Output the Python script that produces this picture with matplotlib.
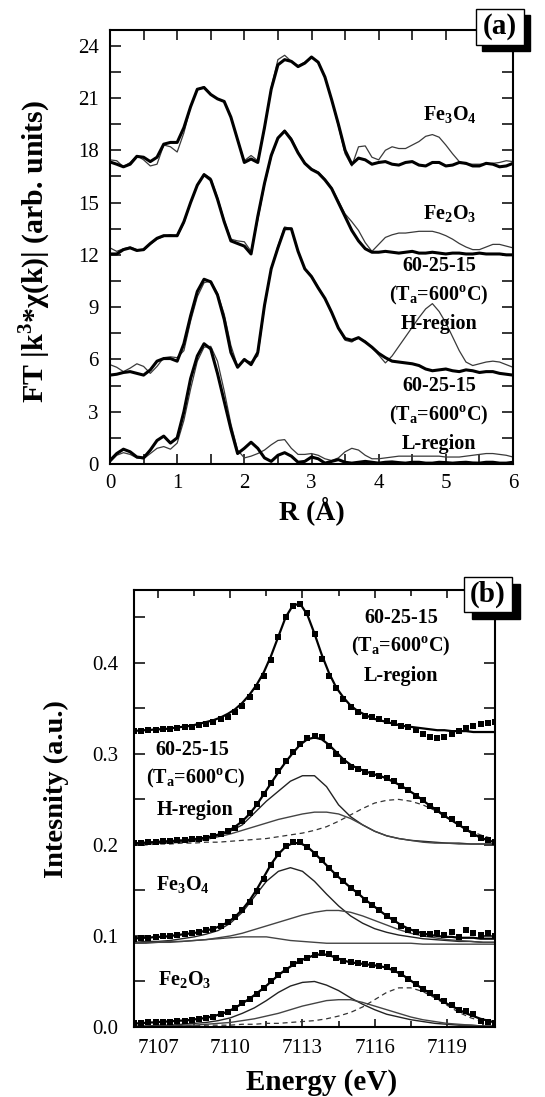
import numpy as np
import matplotlib.pyplot as plt
from matplotlib.patches import Rectangle
from matplotlib.ticker import MultipleLocator

# ---- (a) Fourier transforms, R grid in Angstrom ----
R = np.round(np.arange(61) * 0.1, 1)

FE3O4_EXP = [17.33, 17.2, 17.05, 17.2, 17.65, 17.6, 17.35, 17.6, 18.35, 18.45,
             18.45, 19.3, 20.5, 21.5, 21.6, 21.2, 20.95, 20.8, 19.9, 18.6,
             17.3, 17.5, 17.3, 19.3, 21.5, 22.9, 23.2, 23.1, 22.8, 23.0,
             23.35, 23.05, 22.2, 20.9, 19.5, 18.0, 17.2, 17.55, 17.45, 17.2,
             17.3, 17.35, 17.2, 17.15, 17.3, 17.35, 17.15, 17.1, 17.3, 17.3,
             17.1, 17.15, 17.3, 17.25, 17.1, 17.1, 17.25, 17.2, 17.05, 17.1, 17.25]
FE3O4_FIT = [17.45, 17.4, 17.05, 17.3, 17.7, 17.45, 17.1, 17.2, 18.3, 18.2,
             17.9, 19.0, 20.5, 21.5, 21.65, 21.2, 20.95, 20.8, 19.9, 18.6,
             17.4, 17.7, 17.4, 19.2, 21.6, 23.2, 23.45, 23.1, 22.85, 23.05,
             23.35, 23.05, 22.2, 20.9, 19.4, 17.8, 17.1, 18.2, 18.25, 17.6,
             17.45, 18.0, 18.2, 18.1, 18.1, 18.3, 18.5, 18.8, 18.9, 18.75,
             18.3, 17.8, 17.35, 17.2, 17.2, 17.2, 17.2, 17.25, 17.3, 17.4, 17.35]

FE2O3_EXP = [12.05, 12.05, 12.3, 12.4, 12.25, 12.3, 12.65, 12.95, 13.1, 13.1,
             13.1, 13.9, 15.0, 16.0, 16.6, 16.3, 15.2, 13.9, 12.8, 12.65,
             12.5, 12.05, 14.2, 16.1, 17.7, 18.7, 19.1, 18.6, 17.85, 17.25,
             16.9, 16.7, 16.3, 15.8, 15.0, 14.2, 13.4, 12.8, 12.35, 12.15,
             12.15, 12.2, 12.15, 12.1, 12.15, 12.2, 12.1, 12.1, 12.15, 12.1,
             12.05, 12.1, 12.1, 12.05, 12.05, 12.1, 12.05, 12.05, 12.05, 12.0, 12.0]
FE2O3_FIT = [12.4, 12.2, 12.35, 12.45, 12.3, 12.25, 12.6, 12.9, 13.05, 13.15,
             13.05, 13.8, 15.0, 16.0, 16.65, 16.4, 15.3, 14.0, 12.9, 12.8,
             12.75, 12.2, 14.0, 16.0, 17.6, 18.7, 19.15, 18.7, 17.9, 17.3,
             16.95, 16.75, 16.35, 15.85, 15.1, 14.35, 13.9, 13.4, 12.7, 12.2,
             12.6, 13.0, 13.15, 13.25, 13.25, 13.3, 13.35, 13.35, 13.35, 13.25,
             13.1, 12.9, 12.65, 12.45, 12.3, 12.3, 12.45, 12.6, 12.6, 12.5, 12.4]

H_EXP = [5.1, 5.15, 5.25, 5.3, 5.2, 5.1, 5.4, 5.9, 6.05, 6.05,
         5.9, 6.9, 8.5, 9.9, 10.6, 10.45, 9.7, 8.3, 6.4, 5.55,
         6.0, 5.7, 6.4, 9.1, 11.2, 12.4, 13.5, 13.5, 12.2, 11.2,
         10.75, 10.1, 9.5, 8.7, 7.8, 7.2, 7.1, 7.25, 7.0, 6.7,
         6.35, 6.1, 5.9, 5.85, 5.8, 5.75, 5.65, 5.45, 5.35, 5.4,
         5.45, 5.35, 5.3, 5.4, 5.35, 5.25, 5.3, 5.3, 5.2, 5.15, 5.1]
H_FIT = [5.7, 5.55, 5.3, 5.5, 5.75, 5.6, 5.2, 5.6, 6.1, 6.15,
         6.1, 6.5, 8.2, 9.6, 10.4, 10.5, 9.8, 8.6, 6.8, 5.6,
         5.95, 5.85, 6.2, 9.0, 11.2, 12.5, 13.6, 13.5, 12.2, 11.2,
         10.8, 10.15, 9.5, 8.7, 7.8, 7.1, 7.0, 7.25, 7.05, 6.7,
         6.25, 5.8, 6.2, 6.75, 7.3, 7.85, 8.4, 8.9, 9.2, 8.75,
         8.1, 7.3, 6.5, 5.85, 5.65, 5.75, 5.85, 5.9, 5.85, 5.7, 5.55]

L_EXP = [0.2, 0.6, 0.85, 0.7, 0.4, 0.35, 0.8, 1.35, 1.6, 1.2,
         1.5, 3.0, 4.9, 6.2, 6.9, 6.6, 5.2, 3.6, 2.0, 0.6,
         0.9, 1.25, 0.9, 0.35, 0.15, 0.5, 0.65, 0.45, 0.1, 0.15,
         0.4, 0.3, 0.05, 0.15, 0.25, 0.1, 0.05, 0.1, 0.15, 0.1,
         0.05, 0.1, 0.12, 0.08, 0.05, 0.1, 0.1, 0.05, 0.05, 0.1,
         0.08, 0.05, 0.08, 0.1, 0.06, 0.05, 0.1, 0.1, 0.05, 0.05, 0.1]
L_FIT = [0.1, 0.5, 0.65, 0.55, 0.35, 0.3, 0.6, 0.9, 1.0, 0.85,
         1.2, 2.5, 4.3, 5.9, 6.7, 6.75, 5.9, 4.2, 2.3, 0.8,
         0.35, 0.45, 0.6, 0.8, 1.1, 1.35, 1.4, 0.9, 0.55, 0.55,
         0.6, 0.5, 0.3, 0.2, 0.35, 0.7, 0.9, 0.8, 0.5, 0.3,
         0.3, 0.35, 0.4, 0.45, 0.45, 0.45, 0.45, 0.45, 0.45, 0.45,
         0.4, 0.4, 0.4, 0.45, 0.5, 0.55, 0.6, 0.6, 0.55, 0.5, 0.4]

# ---- (b) XANES pre-edge, energy in eV ----
E_PTS = np.linspace(7106.0, 7121.0, 51)    # 0.3 eV steps: data and total fits
E_CMP = np.linspace(7106.0, 7121.0, 31)    # 0.5 eV steps: fit components

L_DATA = [0.325, 0.325, 0.326, 0.326, 0.327, 0.327, 0.328, 0.329, 0.330, 0.332,
          0.333, 0.335, 0.338, 0.341, 0.346, 0.353, 0.362, 0.373, 0.386, 0.403,
          0.428, 0.450, 0.462, 0.465, 0.455, 0.432, 0.404, 0.385, 0.372, 0.360,
          0.351, 0.346, 0.342, 0.340, 0.338, 0.336, 0.334, 0.331, 0.329, 0.326,
          0.322, 0.318, 0.317, 0.318, 0.322, 0.325, 0.328, 0.331, 0.333, 0.334, 0.335]
L_TOTAL = [0.325, 0.326, 0.326, 0.327, 0.327, 0.328, 0.329, 0.330, 0.331, 0.333,
           0.335, 0.337, 0.340, 0.344, 0.349, 0.356, 0.365, 0.376, 0.390, 0.408,
           0.429, 0.450, 0.463, 0.465, 0.453, 0.432, 0.409, 0.389, 0.373, 0.362,
           0.353, 0.347, 0.343, 0.339, 0.337, 0.335, 0.333, 0.331, 0.330, 0.329,
           0.328, 0.327, 0.326, 0.326, 0.325, 0.325, 0.325, 0.324, 0.324, 0.324, 0.324]

H_DATA = [0.202, 0.202, 0.203, 0.203, 0.204, 0.204, 0.205, 0.205, 0.206, 0.207,
          0.208, 0.210, 0.212, 0.215, 0.219, 0.226, 0.235, 0.245, 0.256, 0.268,
          0.281, 0.292, 0.302, 0.311, 0.317, 0.320, 0.318, 0.309, 0.300, 0.292,
          0.286, 0.283, 0.280, 0.278, 0.276, 0.273, 0.270, 0.265, 0.260, 0.254,
          0.249, 0.243, 0.238, 0.233, 0.228, 0.223, 0.217, 0.212, 0.208, 0.205, 0.203]
H_TOTAL = [0.202, 0.202, 0.203, 0.203, 0.204, 0.204, 0.205, 0.205, 0.206, 0.207,
           0.208, 0.210, 0.212, 0.215, 0.220, 0.226, 0.234, 0.244, 0.256, 0.268,
           0.280, 0.291, 0.301, 0.310, 0.316, 0.318, 0.316, 0.310, 0.302, 0.294,
           0.288, 0.284, 0.281, 0.278, 0.276, 0.273, 0.269, 0.265, 0.260, 0.255,
           0.249, 0.243, 0.238, 0.232, 0.227, 0.222, 0.217, 0.212, 0.208, 0.205, 0.203]
H_PEAK1 = [0.201, 0.202, 0.202, 0.203, 0.204, 0.205, 0.207, 0.210, 0.215, 0.222,
           0.235, 0.248, 0.259, 0.270, 0.276, 0.276, 0.264, 0.244, 0.231, 0.222,
           0.215, 0.210, 0.207, 0.205, 0.204, 0.203, 0.202, 0.202, 0.201, 0.201, 0.201]
H_PEAK2 = [0.201, 0.201, 0.202, 0.202, 0.203, 0.204, 0.206, 0.209, 0.212, 0.216,
           0.220, 0.224, 0.228, 0.231, 0.234, 0.236, 0.236, 0.234, 0.229, 0.222,
           0.215, 0.210, 0.207, 0.205, 0.203, 0.202, 0.202, 0.201, 0.201, 0.201, 0.201]
H_PEAK3 = [0.200, 0.200, 0.201, 0.201, 0.202, 0.202, 0.203, 0.203, 0.204, 0.205,
           0.206, 0.207, 0.209, 0.211, 0.213, 0.216, 0.220, 0.226, 0.233, 0.240,
           0.246, 0.249, 0.250, 0.248, 0.244, 0.238, 0.230, 0.222, 0.215, 0.210, 0.206]

M_DATA = [0.097, 0.098, 0.098, 0.099, 0.100, 0.100, 0.101, 0.102, 0.103, 0.104,
          0.106, 0.108, 0.111, 0.115, 0.121, 0.128, 0.137, 0.149, 0.163, 0.178,
          0.190, 0.199, 0.203, 0.203, 0.198, 0.190, 0.183, 0.175, 0.167, 0.160,
          0.153, 0.147, 0.140, 0.134, 0.128, 0.122, 0.117, 0.111, 0.107, 0.104,
          0.102, 0.102, 0.103, 0.101, 0.104, 0.099, 0.106, 0.103, 0.101, 0.103, 0.100]
M_TOTAL = [0.097, 0.098, 0.098, 0.099, 0.099, 0.100, 0.101, 0.102, 0.103, 0.104,
           0.106, 0.108, 0.111, 0.115, 0.121, 0.129, 0.139, 0.151, 0.165, 0.179,
           0.190, 0.198, 0.202, 0.202, 0.198, 0.191, 0.183, 0.175, 0.167, 0.160,
           0.153, 0.147, 0.140, 0.134, 0.128, 0.122, 0.117, 0.112, 0.108, 0.105,
           0.103, 0.101, 0.100, 0.099, 0.099, 0.098, 0.098, 0.098, 0.097, 0.097, 0.097]
M_PEAK1 = [0.093, 0.094, 0.094, 0.095, 0.097, 0.099, 0.102, 0.106, 0.114, 0.126,
           0.143, 0.160, 0.171, 0.175, 0.171, 0.160, 0.146, 0.133, 0.122, 0.114,
           0.108, 0.104, 0.101, 0.099, 0.097, 0.096, 0.095, 0.094, 0.094, 0.093, 0.093]
M_PEAK2 = [0.092, 0.092, 0.093, 0.093, 0.094, 0.095, 0.096, 0.098, 0.100, 0.103,
           0.107, 0.111, 0.115, 0.119, 0.123, 0.126, 0.128, 0.128, 0.126, 0.122,
           0.117, 0.112, 0.107, 0.103, 0.100, 0.098, 0.096, 0.095, 0.094, 0.093, 0.093]
M_PEAK3 = [0.092, 0.093, 0.093, 0.094, 0.094, 0.095, 0.096, 0.097, 0.098, 0.099,
           0.099, 0.099, 0.097, 0.095, 0.094, 0.093, 0.092, 0.092, 0.092, 0.092,
           0.092, 0.092, 0.092, 0.092, 0.091, 0.091, 0.091, 0.091, 0.091, 0.091, 0.091]

HM_DATA = [0.004, 0.004, 0.005, 0.005, 0.006, 0.006, 0.007, 0.007, 0.008, 0.009,
           0.010, 0.011, 0.014, 0.017, 0.021, 0.026, 0.031, 0.036, 0.043, 0.050,
           0.057, 0.063, 0.069, 0.073, 0.076, 0.079, 0.081, 0.080, 0.076, 0.073,
           0.071, 0.070, 0.069, 0.068, 0.067, 0.066, 0.063, 0.058, 0.053, 0.047,
           0.042, 0.037, 0.033, 0.029, 0.024, 0.019, 0.018, 0.014, 0.007, 0.006, 0.004]
HM_TOTAL = [0.004, 0.004, 0.005, 0.005, 0.006, 0.006, 0.007, 0.007, 0.008, 0.009,
            0.010, 0.012, 0.014, 0.017, 0.021, 0.026, 0.031, 0.037, 0.043, 0.050,
            0.057, 0.063, 0.068, 0.073, 0.076, 0.079, 0.080, 0.079, 0.076, 0.073,
            0.071, 0.070, 0.069, 0.068, 0.067, 0.065, 0.062, 0.058, 0.053, 0.047,
            0.042, 0.037, 0.032, 0.027, 0.023, 0.019, 0.015, 0.012, 0.009, 0.007, 0.005]
HM_PEAK1 = [0.001, 0.001, 0.002, 0.002, 0.003, 0.004, 0.005, 0.007, 0.010, 0.015,
            0.021, 0.029, 0.038, 0.045, 0.049, 0.050, 0.046, 0.040, 0.032, 0.025,
            0.019, 0.014, 0.011, 0.008, 0.006, 0.004, 0.003, 0.002, 0.002, 0.001, 0.001]
HM_PEAK2 = [0.000, 0.001, 0.001, 0.001, 0.002, 0.002, 0.003, 0.004, 0.005, 0.007,
            0.009, 0.012, 0.015, 0.019, 0.023, 0.026, 0.029, 0.030, 0.030, 0.027,
            0.023, 0.019, 0.015, 0.011, 0.008, 0.006, 0.004, 0.003, 0.002, 0.001, 0.001]
HM_PEAK3 = [0.000, 0.000, 0.001, 0.001, 0.001, 0.001, 0.002, 0.002, 0.002, 0.003,
            0.003, 0.004, 0.004, 0.005, 0.006, 0.007, 0.009, 0.012, 0.016, 0.022,
            0.030, 0.038, 0.043, 0.043, 0.039, 0.032, 0.024, 0.016, 0.010, 0.006, 0.004]

W, H = 545, 1097
plt.rcParams['font.family'] = 'Liberation Serif'
plt.rcParams['mathtext.fontset'] = 'custom'
plt.rcParams['mathtext.rm'] = 'Liberation Serif'
plt.rcParams['mathtext.bf'] = 'Liberation Serif:bold'

FE3O4 = r'Fe$_\mathbf{3}$O$_\mathbf{4}$'
FE2O3 = r'Fe$_\mathbf{2}$O$_\mathbf{3}$'
ANNEAL = r'(T$_\mathbf{a}$=600$^\mathbf{o}$C)'


def px_axes(left, top, right, bottom):
    return [left / W, 1 - bottom / H, (right - left) / W, (bottom - top) / H]


def panel_tag(fig, text, x0, y0, w, h, dx, dy):
    shadow = Rectangle(((x0 + dx) / W, 1 - (y0 + h + dy) / H), w / W, h / H,
                       transform=fig.transFigure, fc='black', ec='black', zorder=10)
    box = Rectangle((x0 / W, 1 - (y0 + h) / H), w / W, h / H,
                    transform=fig.transFigure, fc='white', ec='black', lw=1.0, zorder=11)
    fig.add_artist(shadow)
    fig.add_artist(box)
    fig.text((x0 + w / 2) / W, 1 - (y0 + h / 2) / H, text, ha='center', va='center',
             fontsize=21, fontweight='bold', zorder=12)


def style_axes(ax, ylen):
    for s in ax.spines.values():
        s.set_linewidth(1.5)
    ax.tick_params(which='both', direction='in', top=True, right=True, width=1.1)
    ax.tick_params(axis='y', which='both', length=ylen)


def main():
    fig = plt.figure(figsize=(W / 100, H / 100), dpi=100)

    # (a) FT magnitudes: thick = experiment, thin = fit
    ax = fig.add_axes(px_axes(110, 30, 513, 464))
    for exp, fit in [(FE3O4_EXP, FE3O4_FIT), (FE2O3_EXP, FE2O3_FIT),
                     (H_EXP, H_FIT), (L_EXP, L_FIT)]:
        ax.plot(R, fit, color='#3a3a3a', lw=0.9)
        ax.plot(R, exp, color='black', lw=2.2)
    ax.set_xlim(0, 6)
    ax.set_ylim(0, 24.9)
    ax.xaxis.set_major_locator(MultipleLocator(1))
    ax.xaxis.set_minor_locator(MultipleLocator(0.5))
    ax.yaxis.set_major_locator(MultipleLocator(3))
    ax.yaxis.set_minor_locator(MultipleLocator(1.5))
    style_axes(ax, 8)
    ax.tick_params(axis='x', which='both', length=7, pad=7)
    ax.tick_params(axis='y', pad=8)
    ax.tick_params(labelsize=15)
    ax.set_xlabel('R (Å)', fontsize=20, fontweight='bold', va='center')
    ax.xaxis.set_label_coords(0.5, -0.108)
    ax.set_ylabel('FT |k$^\\mathbf{3}$*χ(k)| (arb. units)', fontsize=21.5,
                  fontweight='bold', va='center')
    ax.yaxis.set_label_coords(-0.186, 0.49)
    kw = dict(ha='center', va='center', fontsize=14.5, fontweight='bold')
    ax.text(5.06, 20.0, FE3O4, **kw)
    ax.text(5.06, 14.3, FE2O3, **kw)
    for y0, region in [(11.36, 'H-region'), (4.49, 'L-region')]:
        ax.text(4.9, y0, '60-25-15', **kw)
        ax.text(4.9, y0 - 1.72, ANNEAL, **kw)
        ax.text(4.9, y0 - 3.34, region, **kw)

    # (b) pre-edge spectra: squares = data, thick = total fit, thin/dashed = components
    bx = fig.add_axes(px_axes(134, 590, 495, 1027))
    spectra = [(L_DATA, L_TOTAL, []),
               (H_DATA, H_TOTAL, [H_PEAK1, H_PEAK2, H_PEAK3]),
               (M_DATA, M_TOTAL, [M_PEAK1, M_PEAK2, M_PEAK3]),
               (HM_DATA, HM_TOTAL, [HM_PEAK1, HM_PEAK2, HM_PEAK3])]
    for data, total, comps in spectra:
        for i, comp in enumerate(comps):
            if i == 2 and comp is not M_PEAK3:
                bx.plot(E_CMP, comp, color='#333333', lw=0.9, dashes=(4, 3))
            else:
                bx.plot(E_CMP, comp, color='#222222' if i == 0 else '#444444', lw=1.0)
        bx.plot(E_PTS, data, 's', color='black', ms=5, mew=0)
        bx.plot(E_PTS, total, color='black', lw=1.6)
    bx.set_xlim(7106, 7121)
    bx.set_ylim(0, 0.48)
    bx.xaxis.set_major_locator(MultipleLocator(3))
    bx.xaxis.set_minor_locator(MultipleLocator(1.5))
    bx.yaxis.set_major_locator(MultipleLocator(0.1))
    bx.yaxis.set_minor_locator(MultipleLocator(0.05))
    bx.yaxis.set_major_formatter(plt.FormatStrFormatter('%.1f'))
    style_axes(bx, 8)
    bx.tick_params(axis='x', which='major', length=6, pad=8.5)
    bx.tick_params(axis='x', which='minor', length=4)
    bx.tick_params(axis='y', pad=11.5)
    bx.tick_params(labelsize=15)
    bx.set_xlabel('Energy (eV)', fontsize=21, fontweight='bold', va='center')
    bx.xaxis.set_label_coords(0.52, -0.128)
    bx.set_ylabel('Intesnity (a.u.)', fontsize=20.5, fontweight='bold', va='center')
    bx.yaxis.set_label_coords(-0.216, 0.545)
    bx.text(7117.1, 0.449, '60-25-15', **kw)
    bx.text(7117.1, 0.418, ANNEAL, **kw)
    bx.text(7117.1, 0.385, 'L-region', **kw)
    bx.text(7108.43, 0.304, '60-25-15', **kw)
    bx.text(7108.58, 0.273, ANNEAL, **kw)
    bx.text(7108.53, 0.238, 'H-region', **kw)
    bx.text(7108.04, 0.156, FE3O4, **kw)
    bx.text(7108.1, 0.051, FE2O3, **kw)

    panel_tag(fig, '(a)', 476, 9, 48, 36, 6, 6)
    panel_tag(fig, '(b)', 464, 577, 48, 35, 8, 7)

    fig.savefig('out.png', dpi=100)


if __name__ == '__main__':
    main()
